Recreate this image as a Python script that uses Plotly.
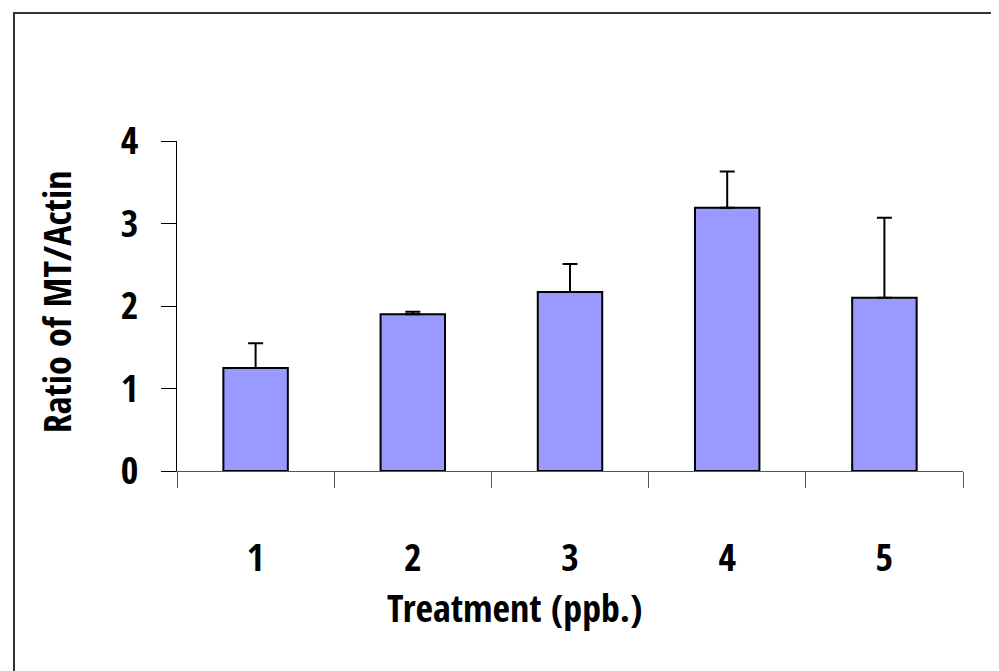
import plotly.graph_objects as go

categories = ["1", "2", "3", "4", "5"]
means = [1.25, 1.90, 2.17, 3.19, 2.10]
errors_up = [0.30, 0.03, 0.34, 0.44, 0.97]
y_ticks = [0, 1, 2, 3, 4]
x_title = "Treatment (ppb.)"
y_title = "Ratio of MT/Actin"

FONT = "Open Sans Condensed, Roboto Condensed, sans-serif"
FS = 38

fig = go.Figure()
fig.add_trace(go.Bar(
    x=categories, y=means,
    width=0.41,
    marker=dict(color="#9999FF", line=dict(color="black", width=2)),
    error_y=dict(type="data", symmetric=False, array=errors_up,
                 arrayminus=[0] * len(means), color="black",
                 thickness=2, width=7.5),
))

fig.update_layout(
    width=999, height=671,
    margin=dict(l=169, r=44, t=133, b=208),
    paper_bgcolor="white", plot_bgcolor="white",
    showlegend=False,
    font=dict(family=FONT, color="black", size=FS, weight="bold"),
    xaxis=dict(
        type="category", tickson="boundaries",
        ticks="outside", ticklen=16, tickcolor="#555", tickwidth=1,
        showline=True, linecolor="#555", linewidth=1,
        showgrid=False, zeroline=False,
        ticklabelstandoff=53,
        tickfont=dict(family=FONT, size=FS, weight="bold"),
    ),
    yaxis=dict(
        range=[0, 4], tickvals=y_ticks,
        ticks="outside", ticklen=15, tickcolor="black", tickwidth=1,
        showline=True, linecolor="black", linewidth=1,
        showgrid=False, zeroline=False,
        ticklabelstandoff=15,
        tickfont=dict(family=FONT, size=FS, weight="bold"),
    ),
)

fig.add_annotation(text=x_title, xref="paper", yref="paper", x=0.430, y=-0.412,
                   xanchor="center", yanchor="middle", showarrow=False,
                   font=dict(family=FONT, size=FS, weight="bold", color="black"))
fig.add_annotation(text=y_title, xref="paper", yref="paper", x=-0.154, y=0.514,
                   xanchor="center", yanchor="middle", showarrow=False, textangle=-90,
                   font=dict(family=FONT, size=FS, weight="bold", color="black"))

fig.add_shape(type="rect", xref="paper", yref="paper",
              x0=-0.2074, x1=1.2, y0=-0.7, y1=1.388,
              line=dict(color="#333", width=2), fillcolor="rgba(0,0,0,0)",
              layer="below")

fig.write_html("out.html")
